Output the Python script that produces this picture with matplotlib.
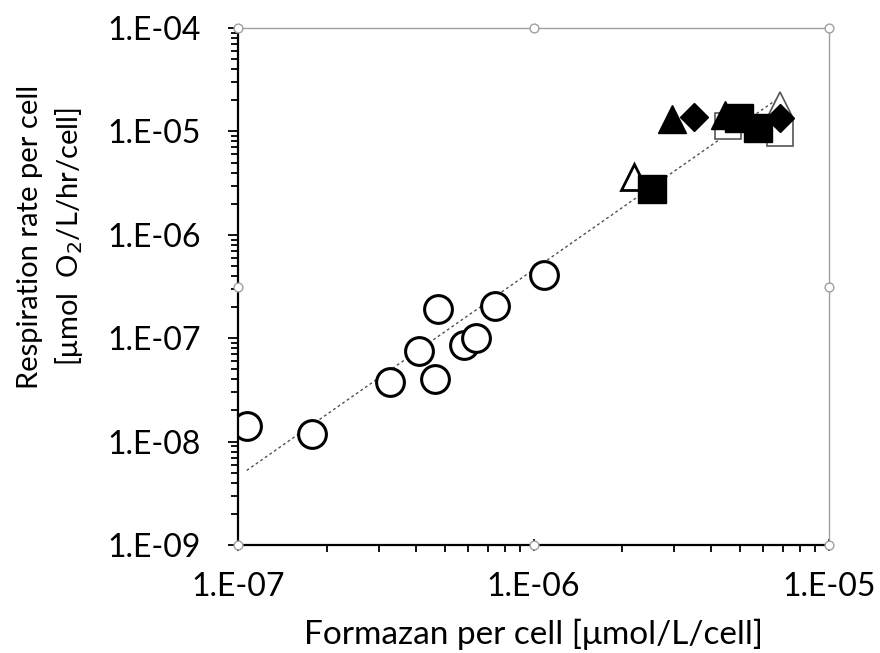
import numpy as np
import matplotlib
from matplotlib import pyplot as plt
from matplotlib.ticker import LogLocator, FixedFormatter, NullFormatter

matplotlib.rcParams['font.family'] = ['Lato', 'DejaVu Sans']

# open circles
circ_x = [1.07e-7, 1.78e-7, 3.27e-7, 4.09e-7, 4.76e-7, 4.63e-7, 5.80e-7, 6.40e-7, 7.43e-7, 1.088e-6]
circ_y = [1.42e-8, 1.19e-8, 3.77e-8, 7.52e-8, 1.90e-7, 4.03e-8, 8.65e-8, 9.98e-8, 2.05e-7, 4.06e-7]
# open triangles / open squares
otri_x = [2.18e-6, 6.83e-6]
otri_y = [3.65e-6, 1.80e-5]
osq_x = [4.54e-6, 6.83e-6]
osq_y = [1.13e-5, 9.6e-6]
# filled markers
ftri_x = [2.95e-6, 4.45e-6]
ftri_y = [1.31e-5, 1.44e-5]
fsq_x = [2.52e-6, 4.97e-6, 5.77e-6]
fsq_y = [2.75e-6, 1.34e-5, 1.07e-5]
fdia_x = [3.50e-6, 6.83e-6]
fdia_y = [1.39e-5, 1.34e-5]
# power trendline y = a * x^b
trend_a = 4.6e5
trend_b = 2.0
trend_range = [1.07e-7, 6.83e-6]

xticks = [1e-7, 1e-6, 1e-5]
xlabels = ['1.E-07', '1.E-06', '1.E-05']
yticks = [1e-9, 1e-8, 1e-7, 1e-6, 1e-5, 1e-4]
ylabels = ['1.E-09', '1.E-08', '1.E-07', '1.E-06', '1.E-05', '1.E-04']

fig = plt.figure(figsize=(8.8, 6.53), dpi=100)
ax = fig.add_axes([0.2705, 0.1654, 0.6715, 0.7916])
ax.set_xscale('log')
ax.set_yscale('log')
ax.set_xlim(1e-7, 1e-5)
ax.set_ylim(1e-9, 1e-4)

tx = np.logspace(np.log10(trend_range[0]), np.log10(trend_range[1]), 50)
ax.plot(tx, trend_a * tx ** trend_b, color='#505050', lw=1.0, ls=(0, (2, 2)), zorder=1)

ax.plot(circ_x, circ_y, 'o', ms=20, mfc='white', mec='black', mew=2.2, ls='none', zorder=2)
ax.plot(otri_x[:1], otri_y[:1], '^', ms=19, mfc='white', mec='black', mew=2.0, ls='none', zorder=2)
ax.plot(otri_x[1:], otri_y[1:], '^', ms=19, mfc='white', mec='#555555', mew=1.2, ls='none', zorder=2)
ax.plot(osq_x, osq_y, 's', ms=19, mfc='white', mec='#555555', mew=1.2, ls='none', zorder=2)
ax.plot(ftri_x, ftri_y, '^', ms=20, mfc='black', mec='black', ls='none', zorder=3)
ax.plot(fsq_x, fsq_y, 's', ms=20, mfc='black', mec='black', ls='none', zorder=3)
ax.plot(fdia_x, fdia_y, 'D', ms=14, mfc='black', mec='black', ls='none', zorder=3)

ax.set_xticks(xticks)
ax.xaxis.set_major_formatter(FixedFormatter(xlabels))
ax.set_yticks(yticks)
ax.yaxis.set_major_formatter(FixedFormatter(ylabels))
ax.xaxis.set_minor_locator(LogLocator(base=10, subs=np.arange(2, 10)))
ax.yaxis.set_minor_locator(LogLocator(base=10, subs=np.arange(2, 10)))
ax.xaxis.set_minor_formatter(NullFormatter())
ax.yaxis.set_minor_formatter(NullFormatter())
ax.tick_params(axis='x', which='major', direction='inout', length=9, width=1.3, labelsize=23, pad=15)
ax.tick_params(axis='x', which='minor', direction='out', length=5, width=1.3)
ax.tick_params(axis='y', which='major', direction='out', length=7, width=1.3, labelsize=23, pad=20)
ax.tick_params(axis='y', which='minor', direction='out', length=5, width=1.3)

for s in ['left', 'bottom']:
    ax.spines[s].set_color('black')
    ax.spines[s].set_linewidth(1.6)
for s in ['top', 'right']:
    ax.spines[s].set_color('#a0a0a0')
    ax.spines[s].set_linewidth(1.0)

fig.text(0.606, 0.004, 'Formazan per cell [\u03bcmol/L/cell]', fontsize=24,
         ha='center', va='bottom')
fig.text(0.058, 0.637, 'Respiration rate per cell\n[\u03bcmol  O$_2$/L/hr/cell]', rotation=90,
         fontsize=21, ha='center', va='center', multialignment='center', linespacing=1.38)

# selection handles
hx = [0, 0.5, 1, 1, 1, 0.5, 0, 0]
hy = [0, 0, 0, 0.5, 1, 1, 1, 0.5]
ax.scatter(hx, hy, s=40, facecolor='white', edgecolor='#a0a0a0', lw=1.0,
           transform=ax.transAxes, clip_on=False, zorder=5)

plt.savefig('out.png', dpi=100)
